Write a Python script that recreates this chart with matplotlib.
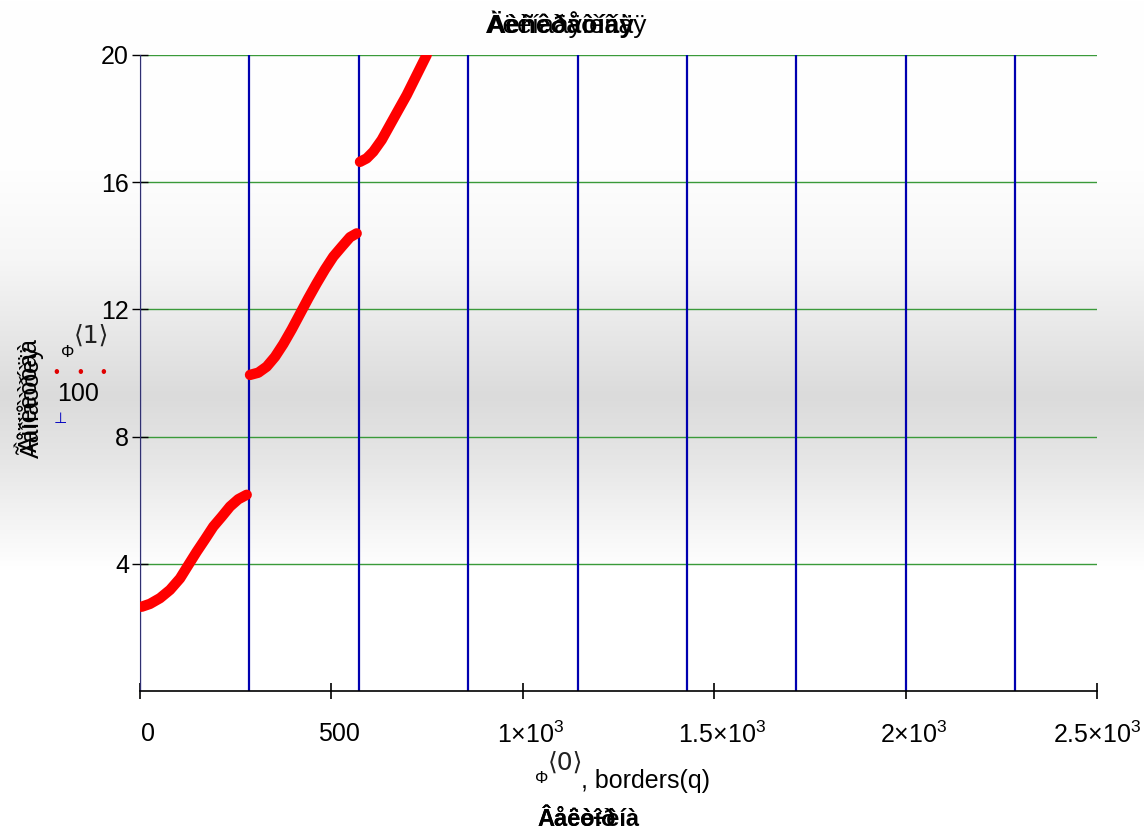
import numpy as np
import matplotlib
matplotlib.use('Agg')
import matplotlib.pyplot as plt
import matplotlib.transforms as mtransforms
from matplotlib import font_manager

# phase curve, one segment per interval (x = column 0, y = column 1 / 100)
seg1_x = [4.4, 26.1, 52.2, 78.4, 104.5, 126.2, 148.1, 169.8, 191.5, 213.4, 235.1, 256.8, 278.7]
seg1_y = [2.65, 2.74, 2.92, 3.18, 3.54, 3.96, 4.38, 4.77, 5.17, 5.48, 5.80, 6.03, 6.17]
seg2_x = [287.4, 309, 331, 352.7, 374.4, 396.3, 418, 439.7, 461.6, 483.3, 505, 526.9, 548.6, 566]
seg2_y = [9.94, 10.01, 10.20, 10.51, 10.91, 11.37, 11.86, 12.35, 12.82, 13.26, 13.66, 13.97, 14.27, 14.39]
seg3_x = [574.7, 592.2, 609.5, 631.4, 653.1, 674.8, 696.7, 722.8, 748.9]
seg3_y = [16.64, 16.75, 16.96, 17.33, 17.80, 18.27, 18.74, 19.37, 20.0]

# interval borders
borders = [0, 285.7, 571.4, 857.1, 1142.9, 1428.6, 1714.3, 2000.0, 2285.7]

x_ticks = [0, 500, 1000, 1500, 2000, 2500]
x_labels = ['0', '500', r'$\mathregular{1{\times}10^3}$', r'$\mathregular{1.5{\times}10^3}$',
            r'$\mathregular{2{\times}10^3}$', r'$\mathregular{2.5{\times}10^3}$']
y_ticks = [4, 8, 12, 16, 20]

installed = {f.name for f in font_manager.fontManager.ttflist}
main_font = 'Liberation Sans Narrow' if 'Liberation Sans Narrow' in installed else 'Liberation Sans'
plt.rcParams['font.family'] = [main_font, 'DejaVu Sans']
plt.rcParams['mathtext.fontset'] = 'custom'
plt.rcParams['mathtext.rm'] = main_font
plt.rcParams['mathtext.it'] = main_font

W, H = 1144, 833
fig = plt.figure(figsize=(W / 100, H / 100), dpi=100)

# window-style grey band behind the plot
rows = np.arange(H)
band = np.interp(rows, [0, 170, 260, 330, 395, 460, 520, 570, H],
                 [255, 254, 246, 232, 219, 230, 244, 255, 255]) / 255.0
bg = np.repeat(np.repeat(band[:, None, None], W, axis=1), 3, axis=2)
fig.figimage(bg, xo=0, yo=0, origin='upper', zorder=-10)

ax = fig.add_axes([140 / W, 1 - 691 / H, 957 / W, 636 / H])
ax.patch.set_alpha(0)
ax.set_xlim(0, 2500)
ax.set_ylim(0, 20)

for v in y_ticks:
    ax.plot([0, 2500], [v, v], color='#3a9a3a', lw=1.0, zorder=1)
ax.vlines(borders, 0, 20, colors='#0000b0', lw=1.6, zorder=2)

for sx, sy in [(seg1_x, seg1_y), (seg2_x, seg2_y), (seg3_x, seg3_y)]:
    ax.plot(sx, sy, color='#ff0000', lw=7.5, solid_capstyle='round',
            solid_joinstyle='round', zorder=3)

for s in ['top', 'right']:
    ax.spines[s].set_visible(False)
ax.spines['left'].set_color('#303070')
ax.spines['bottom'].set_color('black')
ax.spines['bottom'].set_linewidth(1.2)

ax.set_xticks(x_ticks)
ax.set_xticklabels(x_labels)
ax.set_yticks(y_ticks)
ax.set_yticklabels([str(v) for v in y_ticks])
ax.tick_params(axis='x', direction='inout', length=12, width=1.2, pad=16,
               labelsize=18)
ax.tick_params(axis='y', direction='inout', length=12, width=1.0, pad=2,
               labelsize=18)
shift = mtransforms.ScaledTranslation(8 / 100, 0, fig.dpi_scale_trans)
for lab in ax.get_xticklabels()[:-1]:
    lab.set_transform(lab.get_transform() + shift)

# axis captions
fig.text(535 / W, 1 - 783 / H, 'Φ', fontsize=12, ha='left', va='baseline')
fig.text(548 / W, 1 - 770 / H, '⟨0⟩', fontsize=18, ha='left', va='baseline',
         family=['DejaVu Sans'], color='#222222')
fig.text(581 / W, 1 - 788 / H, ', borders(q)', fontsize=18, ha='left',
         va='baseline')
fig.text(537 / W, 1 - 826 / H, 'Âåëè÷èíà', fontsize=17, weight='bold',
         ha='left', va='baseline')
fig.text(537 / W, 1 - 826 / H, 'Âåêòîð', fontsize=17, weight='bold',
         ha='left', va='baseline')

fig.text(486 / W, 1 - 33 / H, 'Àëèíàäÿíèííàÿ', fontsize=19, ha='left',
         va='baseline')
fig.text(486 / W, 1 - 33 / H, 'Äèñêðåòíàÿ', fontsize=19, weight='bold',
         ha='left', va='baseline')

fig.text(30 / W, 1 - 395 / H, 'Àìïëèòóäà', fontsize=18, rotation=90,
         ha='center', va='center')
fig.text(30 / W, 1 - 402 / H, 'Ãåîìåòðèÿ', fontsize=18, rotation=90,
         ha='center', va='center')

# trace legend
fig.text(61 / W, 1 - 357 / H, 'Φ', fontsize=12, ha='left', va='baseline')
fig.text(74 / W, 1 - 343 / H, '⟨1⟩', fontsize=18, ha='left', va='baseline',
         family=['DejaVu Sans'], color='#222222')
for px in [56, 80, 103]:
    fig.text(px / W, 1 - 372 / H, '•', fontsize=12, color='#e00000',
             ha='center', va='center')
fig.text(57 / W, 1 - 401 / H, '100', fontsize=18, ha='left', va='baseline')
fig.text(60 / W, 1 - 418 / H, '⊥', fontsize=11, color='#0000c0',
         ha='center', va='center', family=['DejaVu Sans'])

fig.savefig('out.png', dpi=100)
